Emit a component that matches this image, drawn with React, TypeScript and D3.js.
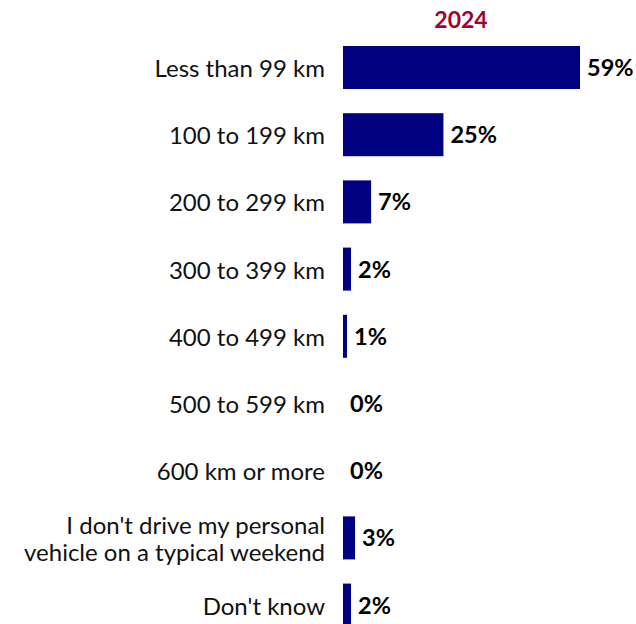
import React from "react";
import * as d3 from "d3";

const categories: string[][] = [
  ["Less than 99 km"],
  ["100 to 199 km"],
  ["200 to 299 km"],
  ["300 to 399 km"],
  ["400 to 499 km"],
  ["500 to 599 km"],
  ["600 km or more"],
  ["I don't drive my personal", "vehicle on a typical weekend"],
  ["Don't know"],
];
const values: number[] = [59, 25, 7, 2, 1, 0, 0, 3, 2];
const seriesName = "2024";

const W = 636;
const H = 624;
const FONT = "Lato, 'Open Sans', sans-serif";

export default function App() {
  const x = d3.scaleLinear().domain([0, 59]).range([343, 580]);
  const keys = categories.map((_, i) => String(i));
  const y = d3
    .scaleBand<string>()
    .domain(keys)
    .range([33.9, 33.9 + 9 * 67.2])
    .paddingInner(0.36)
    .paddingOuter(0.18);
  const bh = y.bandwidth();
  return (
    <svg
      width={W}
      height={H}
      style={{ position: "absolute", left: 0, top: 0 }}
      fontFamily={FONT}
    >
      <text
        x={461}
        y={28}
        textAnchor="middle"
        fontSize={23}
        fontWeight="bold"
        fill="#a5002d"
      >
        {seriesName}
      </text>
      {values.map((v, i) => {
        const yy = y(String(i))!;
        const cy = yy + bh / 2;
        const lines = categories[i];
        const lh = 27;
        return (
          <g key={i}>
            <rect x={x(0)} y={yy} width={x(v) - x(0)} height={bh} fill="#000080" />
            <text
              x={x(v) + 7}
              y={cy + 8.5}
              fontSize={23.5}
              fontWeight="bold"
              fill="#000"
            >
              {`${v}%`}
            </text>
            <text x={325} y={cy} fontSize={24} fill="#111" textAnchor="end">
              {lines.map((l, j) => (
                <tspan
                  key={j}
                  x={325}
                  y={cy + 9.5 + (j - (lines.length - 1) / 2) * lh}
                >
                  {l}
                </tspan>
              ))}
            </text>
          </g>
        );
      })}
    </svg>
  );
}
